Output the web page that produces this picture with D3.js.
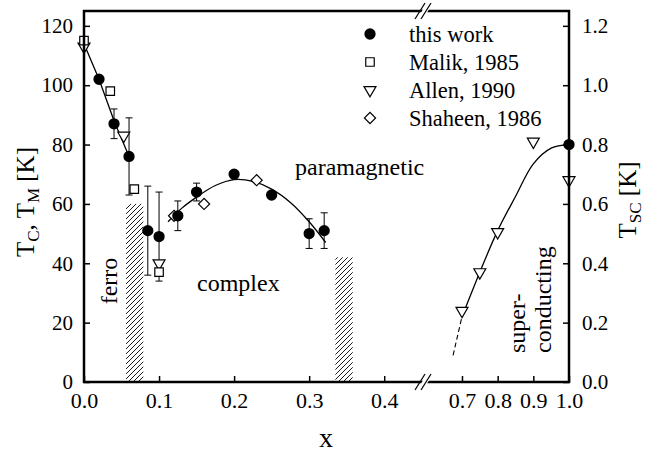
<!DOCTYPE html>
<html>
<head>
<meta charset="utf-8">
<script src="https://cdn.jsdelivr.net/npm/d3@7/dist/d3.min.js"></script>
<style>
  html, body { margin: 0; padding: 0; background: #fff; }
</style>
</head>
<body>
<svg id="chart" width="647" height="460" font-family="Liberation Serif, Times New Roman, serif"></svg>
<script>
// ---- data ----
const leftTicks = [0, 0.1, 0.2, 0.3, 0.4];
const rightTicks = [0.7, 0.8, 0.9, 1.0];
const tTicks = [0, 20, 40, 60, 80, 100, 120];
const tscTicks = [0, 0.2, 0.4, 0.6, 0.8, 1.0, 1.2];

// this work: [x, T, error]
const thisWork = [
  [0.02, 102, 0], [0.04, 87, 5], [0.06, 76, 13], [0.085, 51, 15], [0.10, 49, 15],
  [0.125, 56, 5], [0.15, 64, 3], [0.20, 70, 0], [0.25, 63, 0], [0.30, 50, 5], [0.32, 51, 6]
];
// this work, superconducting transition (Tsc axis)
const thisWorkSC = [[1.0, 0.80]];
const malik = [[0.0, 115], [0.035, 98], [0.067, 65], [0.10, 37]];
const allen = [[0.0, 113], [0.053, 83], [0.10, 40]];
const allenSC = [[0.70, 0.24], [0.75, 0.37], [0.80, 0.505], [0.90, 0.81], [1.0, 0.68]];
const shaheen = [[0.12, 56], [0.16, 60], [0.23, 68]];

// guide-to-the-eye curves
const ferroLine = [[0.0, 114], [0.02, 102], [0.04, 88], [0.06, 76]];
const complexLine = [[0.112, 54], [0.13, 58.5], [0.15, 62.3], [0.175, 66.2], [0.20, 68.2],
  [0.225, 67.6], [0.25, 65], [0.275, 60.5], [0.30, 54], [0.322, 47]];
const scDashed = [[0.675, 0.09], [0.70, 0.22]];
const scLine = [[0.70, 0.22], [0.75, 0.37], [0.80, 0.51], [0.85, 0.625], [0.90, 0.735],
  [0.95, 0.788], [1.0, 0.80]];

// phase-boundary bands: [x0, x1, T]
const bands = [[0.056, 0.079, 60], [0.335, 0.358, 42]];

const legendItems = ["this work", "Malik, 1985", "Allen, 1990", "Shaheen, 1986"];

// ---- layout ----
const L = 84, R = 569, T = 11, B = 382, BRK = 424;
const svg = d3.select("#chart");

const xa = d3.scaleLinear().domain([0, 0.453]).range([L, BRK]);
const xb = d3.scaleLinear().domain([0.5935, 1.0]).range([BRK, R]);
const X = v => (v <= 0.5 ? xa(v) : xb(v));
const y = d3.scaleLinear().domain([0, 125]).range([B, T]);
const ysc = d3.scaleLinear().domain([0, 1.25]).range([B, T]);

// hatch pattern
const defs = svg.append("defs");
defs.append("pattern").attr("id", "hatch").attr("patternUnits", "userSpaceOnUse")
  .attr("width", 5).attr("height", 5)
  .append("path").attr("d", "M-1,1 l2,-2 M0,5 l5,-5 M4,6 l2,-2")
  .attr("stroke", "#000").attr("stroke-width", 0.9);

svg.append("g").selectAll("rect").data(bands).join("rect")
  .attr("x", d => X(d[0])).attr("width", d => X(d[1]) - X(d[0]))
  .attr("y", d => y(d[2])).attr("height", d => B - y(d[2]))
  .attr("fill", "url(#hatch)");

// curves
const line = d3.line().x(d => X(d[0])).y(d => y(d[1]));
const lineSC = d3.line().x(d => X(d[0])).y(d => ysc(d[1])).curve(d3.curveCatmullRom);
svg.append("path").attr("d", line(ferroLine)).attr("fill", "none").attr("stroke", "#000").attr("stroke-width", 1.3);
svg.append("path").attr("d", line.curve(d3.curveCatmullRom)(complexLine)).attr("fill", "none").attr("stroke", "#000").attr("stroke-width", 1.3);
svg.append("path").attr("d", lineSC(scLine)).attr("fill", "none").attr("stroke", "#000").attr("stroke-width", 1.3);
svg.append("path").attr("d", lineSC(scDashed)).attr("fill", "none").attr("stroke", "#000").attr("stroke-width", 1.1).attr("stroke-dasharray", "5,3");

// error bars
const eb = svg.append("g").attr("stroke", "#000").attr("stroke-width", 1);
thisWork.filter(d => d[2] > 0).forEach(d => {
  const cx = X(d[0]), y0 = y(d[1] - d[2]), y1 = y(d[1] + d[2]);
  eb.append("line").attr("x1", cx).attr("x2", cx).attr("y1", y0).attr("y2", y1);
  eb.append("line").attr("x1", cx - 3.5).attr("x2", cx + 3.5).attr("y1", y0).attr("y2", y0);
  eb.append("line").attr("x1", cx - 3.5).attr("x2", cx + 3.5).attr("y1", y1).attr("y2", y1);
});

// markers
const shapes = {
  circle: d3.symbol(d3.symbolCircle, 100)(),
  square: d3.symbol(d3.symbolSquare, 72)(),
  tri: d3.symbol(d3.symbolTriangle, 62)(),
  diamond: d3.symbol(d3.symbolSquare, 62)()
};
function drawMarks(data, yScale, kind) {
  const rot = kind === "tri" ? 180 : kind === "diamond" ? 45 : 0;
  svg.append("g").selectAll("path").data(data).join("path")
    .attr("d", shapes[kind])
    .attr("transform", d => `translate(${X(d[0])},${yScale(d[1])}) rotate(${rot})`)
    .attr("fill", kind === "circle" ? "#000" : "#fff")
    .attr("stroke", "#000").attr("stroke-width", kind === "circle" ? 0 : 1.2);
}
drawMarks(allen, y, "tri");
drawMarks(allenSC, ysc, "tri");
drawMarks(malik, y, "square");
drawMarks(shaheen, y, "diamond");
drawMarks(thisWork, y, "circle");
drawMarks(thisWorkSC, ysc, "circle");

// axes
const axW = 2.5;
function styleAxis(size) {
  return g => {
    g.attr("font-family", null).attr("font-size", size);
    g.selectAll(".domain").remove();
    g.selectAll(".tick line").attr("stroke", "#000").attr("stroke-width", 1.5);
    g.selectAll(".tick text").attr("fill", "#000");
  };
}
svg.append("g").attr("transform", `translate(${L},0)`)
  .call(d3.axisLeft(y).tickValues(tTicks).tickSizeInner(-6).tickSizeOuter(0).tickPadding(11).tickFormat(d3.format("d")))
  .call(styleAxis(21));
svg.append("g").attr("transform", `translate(${R},0)`)
  .call(d3.axisRight(ysc).tickValues(tscTicks).tickSizeInner(-6).tickSizeOuter(0).tickPadding(13).tickFormat(d3.format(".1f")))
  .call(styleAxis(21));
svg.append("g").attr("transform", `translate(0,${B})`)
  .call(d3.axisBottom(xa).tickValues(leftTicks).tickSizeInner(-6).tickSizeOuter(0).tickPadding(10).tickFormat(d3.format(".1f")))
  .call(styleAxis(22));
svg.append("g").attr("transform", `translate(0,${B})`)
  .call(d3.axisBottom(xb).tickValues(rightTicks).tickSizeInner(-6).tickSizeOuter(0).tickPadding(10).tickFormat(d3.format(".1f")))
  .call(styleAxis(22));

// frame
svg.append("rect").attr("x", L).attr("y", T).attr("width", R - L).attr("height", B - T)
  .attr("fill", "none").attr("stroke", "#000").attr("stroke-width", axW);

// axis break marks
[T, B].forEach(yy => {
  const g = svg.append("g").attr("transform", `translate(${BRK},${yy})`);
  g.append("path").attr("d", "M-7,8 L3,-8 L9,-8 L-1,8 Z").attr("fill", "#fff").attr("stroke", "none");
  g.append("line").attr("x1", -9).attr("y1", 8).attr("x2", 1).attr("y2", -8).attr("stroke", "#000").attr("stroke-width", 1.2);
  g.append("line").attr("x1", -3).attr("y1", 8).attr("x2", 7).attr("y2", -8).attr("stroke", "#000").attr("stroke-width", 1.2);
});

// legend
const lg = svg.append("g");
const legKinds = ["circle", "square", "tri", "diamond"];
legendItems.forEach((t, i) => {
  const yy = 34 + i * 28;
  const rot = legKinds[i] === "tri" ? 180 : legKinds[i] === "diamond" ? 45 : 0;
  lg.append("path").attr("d", shapes[legKinds[i]])
    .attr("transform", `translate(370,${yy}) rotate(${rot})`)
    .attr("fill", legKinds[i] === "circle" ? "#000" : "#fff")
    .attr("stroke", "#000").attr("stroke-width", legKinds[i] === "circle" ? 0 : 1.2);
  lg.append("text").attr("x", 409).attr("y", yy).attr("dy", "0.35em").attr("font-size", 22.5).text(t);
});

// region labels
svg.append("text").attr("x", 295).attr("y", 175).attr("font-size", 24).text("paramagnetic");
svg.append("text").attr("x", 197).attr("y", 291).attr("font-size", 24).text("complex");
svg.append("text").attr("transform", "translate(117,281) rotate(-90)").attr("font-size", 24).attr("text-anchor", "middle").text("ferro");
svg.append("text").attr("transform", "translate(525,353) rotate(-90)").attr("font-size", 24).text("super-");
svg.append("text").attr("transform", "translate(551,353) rotate(-90)").attr("font-size", 24).text("conducting");

// axis titles
const yl = svg.append("text").attr("transform", "translate(34,202) rotate(-90)").attr("text-anchor", "middle").attr("font-size", 25);
yl.append("tspan").text("T");
yl.append("tspan").attr("font-size", 17).attr("dy", 5).text("C");
yl.append("tspan").attr("dy", -5).text(", T");
yl.append("tspan").attr("font-size", 17).attr("dy", 5).text("M");
yl.append("tspan").attr("dy", -5).text("  [K]");

const yr = svg.append("text").attr("transform", "translate(636,200) rotate(-90)").attr("text-anchor", "middle").attr("font-size", 25);
yr.append("tspan").text("T");
yr.append("tspan").attr("font-size", 17).attr("dy", 5).text("SC");
yr.append("tspan").attr("dy", -5).text(" [K]");

svg.append("text").attr("x", 326).attr("y", 447).attr("text-anchor", "middle").attr("font-size", 28).text("x");
</script>
</body>
</html>
